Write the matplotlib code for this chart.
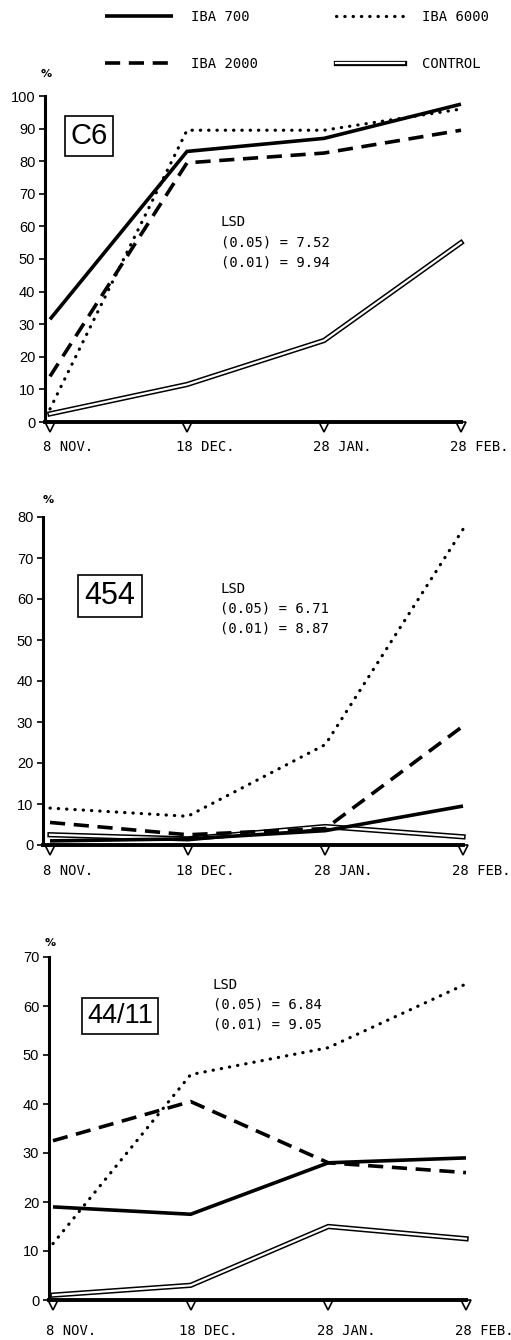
import numpy as np
import matplotlib.pyplot as plt
from matplotlib.lines import Line2D
from matplotlib.transforms import ScaledTranslation

dates = ['8 NOV.', '18 DEC.', '28 JAN.', '28 FEB.']
x = np.arange(len(dates))
series_names = ['IBA 700', 'IBA 2000', 'IBA 6000', 'CONTROL']

# clone C6
c6_iba700 = [31.5, 83, 87, 97.5]
c6_iba2000 = [14, 79.5, 82.5, 89.5]
c6_iba6000 = [4, 89.5, 89.5, 96]
c6_control = [2.5, 11.5, 25, 55]
c6_lsd = ('7.52', '9.94')

# clone 454
p454_iba700 = [1, 1.5, 3.5, 9.5]
p454_iba2000 = [5.5, 2.5, 4, 29]
p454_iba6000 = [9, 7, 24.5, 77]
p454_control = [2.5, 1.5, 4.5, 2]
p454_lsd = ('6.71', '8.87')

# clone 44/11
p4411_iba700 = [19, 17.5, 28, 29]
p4411_iba2000 = [32.5, 40.5, 28, 26]
p4411_iba6000 = [11.5, 46, 51.5, 64.5]
p4411_control = [1, 3, 15, 12.5]
p4411_lsd = ('6.84', '9.05')

W, H = 511, 1340
MONO = 'DejaVu Sans Mono'
SANS = 'Liberation Sans'


def fx(px):
    return px / W


def fy(py):
    return 1 - py / H


fig = plt.figure(figsize=(W / 100, H / 100), dpi=100)

solid_kw = dict(color='black', lw=2.6, solid_joinstyle='miter', solid_capstyle='butt')
dash_kw = dict(color='black', lw=2.6, linestyle=(0, (4.2, 2.4)), dash_capstyle='butt')
dot_kw = dict(color='black', lw=2.3, linestyle=(0, (0.1, 2.5)), dash_capstyle='round')
ctrl_out = dict(color='black', lw=3.8, solid_joinstyle='miter')
ctrl_in = dict(color='white', lw=1.6, solid_joinstyle='miter')

# name, data, lsd, ymax, spine_px, x0_px, x3_px, y0_px, ytop_px, box center, box font size,
# lsd text pos, % pos, xlabel pad
panels = [
    ('C6', (c6_iba700, c6_iba2000, c6_iba6000, c6_control), c6_lsd, 100,
     45, 50, 461, 422, 96, (89, 136), 21, (221, 222), (46, 74), 13),
    ('454', (p454_iba700, p454_iba2000, p454_iba6000, p454_control), p454_lsd, 80,
     43, 50, 463, 845, 517, (110, 596), 22, (220, 589), (48, 500), 14),
    ('44/11', (p4411_iba700, p4411_iba2000, p4411_iba6000, p4411_control), p4411_lsd, 70,
     49, 53, 466, 1300, 957, (120, 1016), 19.5, (213, 985), (50, 943), 17),
]

for (name, data, lsd, ymax, spine, x0, x3, y0, ytop, boxc, boxfs,
     lsdpos, pctpos, xpad) in panels:
    unit = (x3 - x0) / 3
    right = x3 + 22
    ax = fig.add_axes([fx(spine), fy(y0), (right - spine) / W, (y0 - ytop) / H])
    xl = -(x0 - spine) / unit
    ax.set_xlim(xl, 3 + 22 / unit)
    ax.set_ylim(0, ymax)

    iba700, iba2000, iba6000, control = data
    ax.plot(x, control, clip_on=False, zorder=3, **ctrl_out)
    ax.plot(x, control, clip_on=False, zorder=3.1, **ctrl_in)
    ax.plot(x, iba700, clip_on=False, zorder=4, **solid_kw)
    ax.plot(x, iba2000, clip_on=False, zorder=4, **dash_kw)
    ax.plot(x, iba6000, clip_on=False, zorder=4, **dot_kw)

    # small open triangles under the base line
    shift = ScaledTranslation(0, -0.045, fig.dpi_scale_trans)
    ax.plot(x, np.zeros(len(x)), 'v', ms=7, mfc='white', mec='black', mew=1.2,
            clip_on=False, zorder=1, transform=ax.transData + shift)

    for s in ['top', 'right']:
        ax.spines[s].set_visible(False)
    ax.spines['left'].set_linewidth(2.2)
    ax.spines['bottom'].set_linewidth(2.8)
    ax.spines['bottom'].set_bounds(xl, 3)
    ax.spines['bottom'].set_zorder(5)

    ax.set_yticks(np.arange(0, ymax + 1, 10))
    ax.tick_params(axis='y', length=4, width=1.2, pad=3, labelsize=10.5)
    for lab in ax.get_yticklabels():
        lab.set_fontfamily(SANS)
    ax.set_xticks(x)
    ax.set_xticklabels(dates, fontfamily=MONO, fontsize=10)
    ax.tick_params(axis='x', length=0, pad=xpad)
    off = ScaledTranslation(0.18, 0, fig.dpi_scale_trans)
    for lab in ax.get_xticklabels():
        lab.set_transform(lab.get_transform() + off)

    fig.text(fx(boxc[0]), fy(boxc[1]), name, fontsize=boxfs, fontfamily=SANS,
             ha='center', va='center',
             bbox=dict(boxstyle='square,pad=0.2', fc='white', ec='black', lw=1.2))
    lx, ly = lsdpos
    fig.text(fx(lx), fy(ly), 'LSD', fontfamily=MONO, fontsize=10, va='center')
    fig.text(fx(lx), fy(ly + 20), '(0.05) = ' + lsd[0], fontfamily=MONO, fontsize=10, va='center')
    fig.text(fx(lx), fy(ly + 40), '(0.01) = ' + lsd[1], fontfamily=MONO, fontsize=10, va='center')
    fig.text(fx(pctpos[0]), fy(pctpos[1]), '%', fontsize=8, fontweight='bold',
             ha='center', va='center')

# legend at the top
h700 = Line2D([], [], **solid_kw)
h2000 = Line2D([], [], **dash_kw)
h6000 = Line2D([], [], **dot_kw)
hctrl = (Line2D([], [], **ctrl_out), Line2D([], [], **ctrl_in))
leg = fig.legend([h700, h2000, h6000, hctrl], series_names, ncol=2,
                 loc='upper left', bbox_to_anchor=(fx(105), fy(10)),
                 bbox_transform=fig.transFigure, frameon=False,
                 prop={'family': MONO, 'size': 10},
                 handlelength=4.9, handletextpad=1.3, columnspacing=5.6,
                 labelspacing=2.4, borderpad=0, borderaxespad=0)

fig.savefig('out.png', dpi=100)
